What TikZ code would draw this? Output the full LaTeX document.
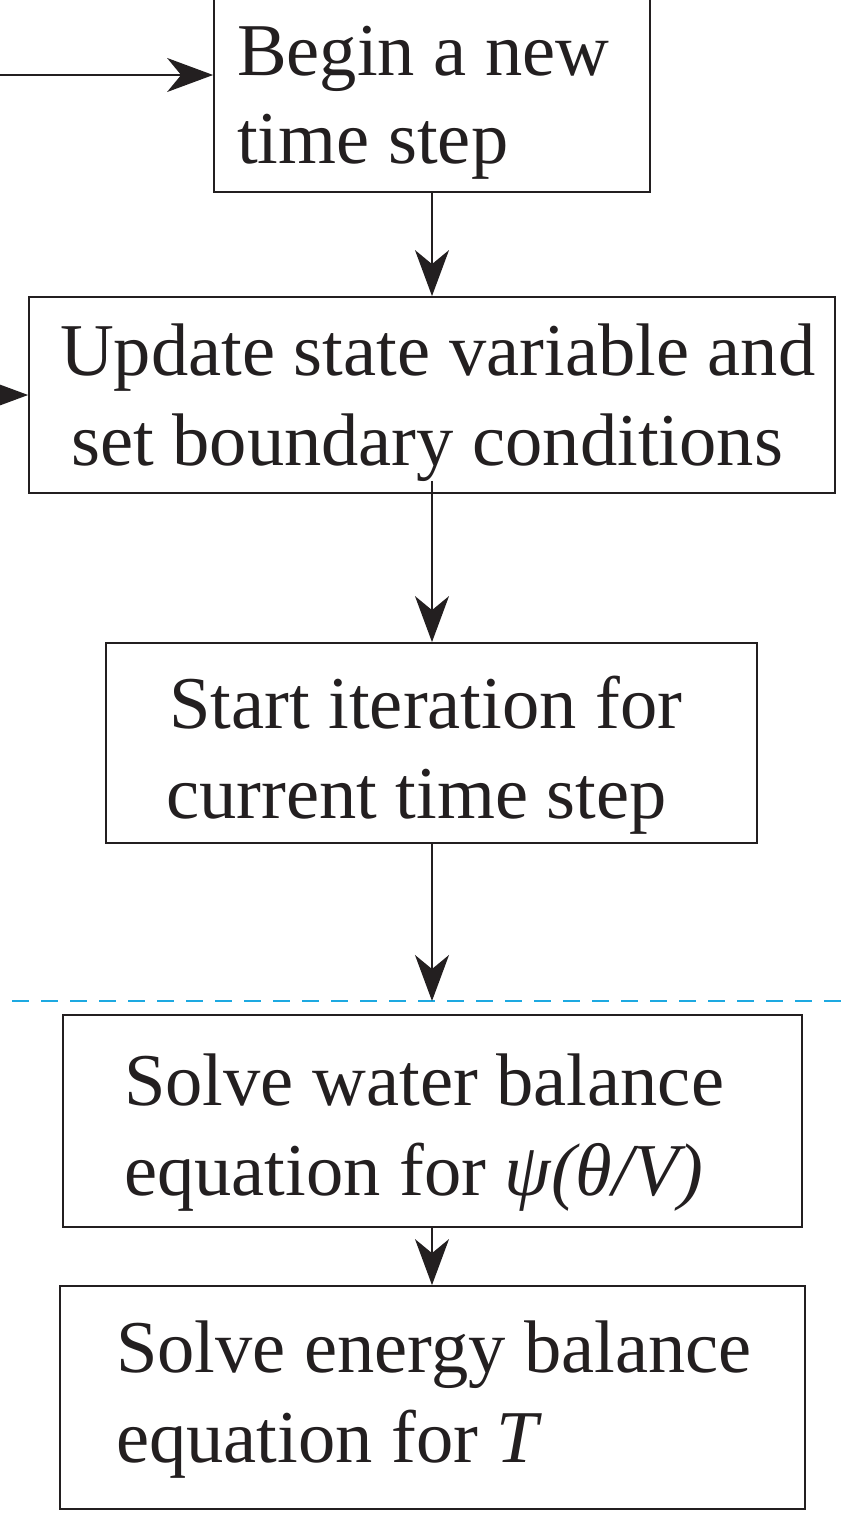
\documentclass[tikz,border=0pt]{standalone}
\usepackage{fontspec}
\setmainfont{Liberation Serif}
\usetikzlibrary{arrows.meta}
\definecolor{ink}{HTML}{231F20}
\definecolor{dashblue}{HTML}{1DA9E1}
\begin{document}
\begin{tikzpicture}[x=1pt,y=-1pt,
  box/.style={draw=ink, line width=1.8pt, inner sep=0pt, rectangle},
  txt/.style={anchor=base west, inner sep=0pt, text=ink, font=\fontsize{74.5}{89}\selectfont},
  conn/.style={draw=ink, line width=1.6pt, -{Stealth[length=46pt,width=34pt,inset=14pt]}}]
\useasboundingbox (0,0) rectangle (852,1524);
% boxes
\node[box, minimum width=436pt, minimum height=197pt] (b1) at (432,93.5) {};
\node[box, minimum width=806pt, minimum height=196pt] (b2) at (432,395) {};
\node[box, minimum width=651pt, minimum height=200pt] (b3) at (431.5,743) {};
\node[box, minimum width=739pt, minimum height=212pt] (b4) at (432.5,1121) {};
\node[box, minimum width=745pt, minimum height=223pt] (b5) at (432.5,1397.5) {};
% texts
\node[txt] (t1a) at (237,75) {Begin a new};
\node[txt] (t1b) at (237,163) {time step};
\node[txt] (t2a) at (60,375) {Update state variable and};
\node[txt] (t2b) at (71,465) {set boundary conditions};
\node[txt] (t3a) at (169,728) {Start iteration for};
\node[txt] (t3b) at (166,818) {current time step};
\node[txt] (t4a) at (124,1105) {Solve water balance};
\node[txt] (t4b) at (124,1195) {equation for \textit{ψ(θ/V)}};
\node[txt] (t5a) at (116,1372) {Solve energy balance};
\node[txt] (t5b) at (116,1462) {equation for \textit{T}};
% dashed separator
\coordinate (dl) at (12,1001);
\coordinate (dr) at (860,1001);
\coordinate (dm) at (432,1001);
\draw[dashblue, line width=2.6pt, dash pattern=on 17pt off 12pt] (dl) -- (dr);
% connectors
\coordinate (in1) at (-10,75);
\coordinate (in2) at (-60,395);
\draw[conn] (in1) -- (in1 -| b1.west);
\draw[conn] (in2) -- (b2.west);
\draw[conn] (b1.south) -- (b2.north);
\draw[conn] ([yshift=13pt]b2.south) -- (b2.south |- b3.north);
\draw[conn] (b3.south -| dm) -- (dm);
\draw[conn] (b4.south -| dm) -- (b5.north -| dm);
\end{tikzpicture}
\end{document}
